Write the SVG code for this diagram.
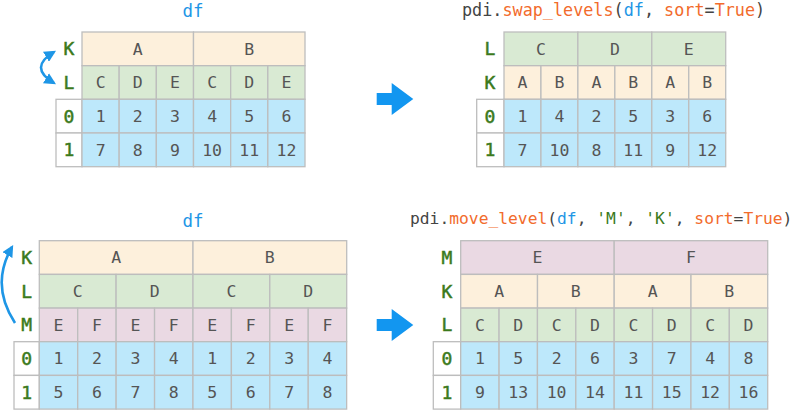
<svg xmlns="http://www.w3.org/2000/svg" width="800" height="410" viewBox="0 0 800 410">
<style>
.c{stroke:#bdbdbd;stroke-width:1.3}
.o{fill:#fdf0dc}.g{fill:#d9ead3}.p{fill:#ead9e3}.b{fill:#bde8fb}.w{fill:#ffffff}
text{font-family:"DejaVu Sans Mono","Liberation Mono",monospace}
.t{font-size:16.5px;fill:#555;text-anchor:middle}
.l{font-size:18px;fill:#3b7a1c;text-anchor:middle;stroke:#3b7a1c;stroke-width:0.5}
.df{font-size:17.5px;fill:#1e96e6;text-anchor:middle}
.code{fill:#444}
.or{fill:#f26b2c}.bl{fill:#1e96e6}.gr{fill:#3b7a1c}
.arc{fill:none;stroke:#1e96e6;stroke-width:2.6}
.chev{fill:#1296f0}
</style>
<defs>
<marker id="ah" viewBox="0 0 10 10" refX="8" refY="5" markerWidth="4.5" markerHeight="4.5" orient="auto-start-reverse" markerUnits="strokeWidth">
<path d="M0,0 L10,5 L0,10 z" fill="#1e96e6"/>
</marker>
</defs>

<g id="connectors">
<path class="arc" d="M54 52 Q28 67.5 54 83" marker-start="url(#ah)" marker-end="url(#ah)"/>
<path class="arc" d="M15 323 Q-10 285 12 247" marker-end="url(#ah)"/>
<polygon class="chev" points="376.7,93 391.7,93 391.7,83 413.3,99 391.7,115 391.7,105 376.7,105"/>
<polygon class="chev" points="376.7,319 391.7,319 391.7,309 413.3,325 391.7,341 391.7,331 376.7,331"/>
</g>

<g id="table1">
<text class="df" x="193" y="16.5">df</text>
<rect class="o c" x="82" y="32" width="111.5" height="33.7"/>
<rect class="o c" x="193.5" y="32" width="111.5" height="33.7"/>
<text class="t" x="137.75" y="54.5">A</text><text class="t" x="249.25" y="54.5">B</text>
<g>
<rect class="g c" x="82" y="65.7" width="37.17" height="33.6"/>
<rect class="g c" x="119.17" y="65.7" width="37.17" height="33.6"/>
<rect class="g c" x="156.33" y="65.7" width="37.17" height="33.6"/>
<rect class="g c" x="193.5" y="65.7" width="37.17" height="33.6"/>
<rect class="g c" x="230.67" y="65.7" width="37.17" height="33.6"/>
<rect class="g c" x="267.83" y="65.7" width="37.17" height="33.6"/>
</g>
<text class="t" x="100.6" y="88.2">C</text><text class="t" x="137.75" y="88.2">D</text><text class="t" x="174.9" y="88.2">E</text><text class="t" x="212.1" y="88.2">C</text><text class="t" x="249.25" y="88.2">D</text><text class="t" x="286.4" y="88.2">E</text>
<g>
<rect class="w c" x="56" y="99.3" width="26" height="33.7"/>
<rect class="w c" x="56" y="133" width="26" height="33.7"/>
<rect class="b c" x="82" y="99.3" width="37.17" height="33.7"/>
<rect class="b c" x="119.17" y="99.3" width="37.17" height="33.7"/>
<rect class="b c" x="156.33" y="99.3" width="37.17" height="33.7"/>
<rect class="b c" x="193.5" y="99.3" width="37.17" height="33.7"/>
<rect class="b c" x="230.67" y="99.3" width="37.17" height="33.7"/>
<rect class="b c" x="267.83" y="99.3" width="37.17" height="33.7"/>
<rect class="b c" x="82" y="133" width="37.17" height="33.7"/>
<rect class="b c" x="119.17" y="133" width="37.17" height="33.7"/>
<rect class="b c" x="156.33" y="133" width="37.17" height="33.7"/>
<rect class="b c" x="193.5" y="133" width="37.17" height="33.7"/>
<rect class="b c" x="230.67" y="133" width="37.17" height="33.7"/>
<rect class="b c" x="267.83" y="133" width="37.17" height="33.7"/>
</g>
<text class="t" x="100.6" y="121.9">1</text><text class="t" x="137.75" y="121.9">2</text><text class="t" x="174.9" y="121.9">3</text><text class="t" x="212.1" y="121.9">4</text><text class="t" x="249.25" y="121.9">5</text><text class="t" x="286.4" y="121.9">6</text>
<text class="t" x="100.6" y="155.6">7</text><text class="t" x="137.75" y="155.6">8</text><text class="t" x="174.9" y="155.6">9</text><text class="t" x="212.1" y="155.6">10</text><text class="t" x="249.25" y="155.6">11</text><text class="t" x="286.4" y="155.6">12</text>
<text class="l" x="69" y="55.2">K</text><text class="l" x="69" y="88.9">L</text><text class="l" x="69" y="122.6">0</text><text class="l" x="69" y="156.3">1</text>
</g>

<g id="table2">
<text class="code" x="462" y="16" font-size="16.8">pdi.<tspan class="or">swap_levels</tspan>(<tspan class="bl">df</tspan>, <tspan class="or">sort</tspan>=<tspan class="or">True</tspan>)</text>
<rect class="g c" x="504" y="32" width="73.9" height="33.7"/>
<rect class="g c" x="577.9" y="32" width="73.9" height="33.7"/>
<rect class="g c" x="651.8" y="32" width="73.9" height="33.7"/>
<text class="t" x="541" y="54.5">C</text><text class="t" x="614.85" y="54.5">D</text><text class="t" x="688.75" y="54.5">E</text>
<g>
<rect class="o c" x="504" y="65.7" width="36.95" height="33.6"/>
<rect class="o c" x="540.95" y="65.7" width="36.95" height="33.6"/>
<rect class="o c" x="577.9" y="65.7" width="36.95" height="33.6"/>
<rect class="o c" x="614.85" y="65.7" width="36.95" height="33.6"/>
<rect class="o c" x="651.8" y="65.7" width="36.95" height="33.6"/>
<rect class="o c" x="688.75" y="65.7" width="36.95" height="33.6"/>
</g>
<text class="t" x="522.5" y="88.2">A</text><text class="t" x="559.4" y="88.2">B</text><text class="t" x="596.4" y="88.2">A</text><text class="t" x="633.3" y="88.2">B</text><text class="t" x="670.3" y="88.2">A</text><text class="t" x="707.2" y="88.2">B</text>
<g>
<rect class="w c" x="476.7" y="99.3" width="27.3" height="33.7"/>
<rect class="w c" x="476.7" y="133" width="27.3" height="33.7"/>
<rect class="b c" x="504" y="99.3" width="36.95" height="33.7"/>
<rect class="b c" x="540.95" y="99.3" width="36.95" height="33.7"/>
<rect class="b c" x="577.9" y="99.3" width="36.95" height="33.7"/>
<rect class="b c" x="614.85" y="99.3" width="36.95" height="33.7"/>
<rect class="b c" x="651.8" y="99.3" width="36.95" height="33.7"/>
<rect class="b c" x="688.75" y="99.3" width="36.95" height="33.7"/>
<rect class="b c" x="504" y="133" width="36.95" height="33.7"/>
<rect class="b c" x="540.95" y="133" width="36.95" height="33.7"/>
<rect class="b c" x="577.9" y="133" width="36.95" height="33.7"/>
<rect class="b c" x="614.85" y="133" width="36.95" height="33.7"/>
<rect class="b c" x="651.8" y="133" width="36.95" height="33.7"/>
<rect class="b c" x="688.75" y="133" width="36.95" height="33.7"/>
</g>
<text class="t" x="522.5" y="121.9">1</text><text class="t" x="559.4" y="121.9">4</text><text class="t" x="596.4" y="121.9">2</text><text class="t" x="633.3" y="121.9">5</text><text class="t" x="670.3" y="121.9">3</text><text class="t" x="707.2" y="121.9">6</text>
<text class="t" x="522.5" y="155.6">7</text><text class="t" x="559.4" y="155.6">10</text><text class="t" x="596.4" y="155.6">8</text><text class="t" x="633.3" y="155.6">11</text><text class="t" x="670.3" y="155.6">9</text><text class="t" x="707.2" y="155.6">12</text>
<text class="l" x="490" y="55.2">L</text><text class="l" x="490" y="88.9">K</text><text class="l" x="490" y="122.6">0</text><text class="l" x="490" y="156.3">1</text>
</g>

<g id="table3">
<text class="df" x="193" y="227">df</text>
<rect class="o c" x="39.3" y="240.7" width="153.7" height="33.7"/>
<rect class="o c" x="193" y="240.7" width="153.7" height="33.7"/>
<text class="t" x="116.1" y="263.2">A</text><text class="t" x="269.8" y="263.2">B</text>
<rect class="g c" x="39.3" y="274.4" width="76.8" height="33.7"/>
<rect class="g c" x="116.1" y="274.4" width="76.9" height="33.7"/>
<rect class="g c" x="193" y="274.4" width="76.8" height="33.7"/>
<rect class="g c" x="269.8" y="274.4" width="76.9" height="33.7"/>
<text class="t" x="77.7" y="296.9">C</text><text class="t" x="154.6" y="296.9">D</text><text class="t" x="231.4" y="296.9">C</text><text class="t" x="308.3" y="296.9">D</text>
<g>
<rect class="p c" x="39.3" y="308.1" width="38.42" height="33.6"/>
<rect class="p c" x="77.72" y="308.1" width="38.42" height="33.6"/>
<rect class="p c" x="116.14" y="308.1" width="38.42" height="33.6"/>
<rect class="p c" x="154.56" y="308.1" width="38.42" height="33.6"/>
<rect class="p c" x="192.98" y="308.1" width="38.42" height="33.6"/>
<rect class="p c" x="231.4" y="308.1" width="38.42" height="33.6"/>
<rect class="p c" x="269.82" y="308.1" width="38.42" height="33.6"/>
<rect class="p c" x="308.24" y="308.1" width="38.42" height="33.6"/>
</g>
<text class="t" x="58.5" y="330.5">E</text><text class="t" x="96.9" y="330.5">F</text><text class="t" x="135.4" y="330.5">E</text><text class="t" x="173.8" y="330.5">F</text><text class="t" x="212.2" y="330.5">E</text><text class="t" x="250.6" y="330.5">F</text><text class="t" x="289.1" y="330.5">E</text><text class="t" x="327.5" y="330.5">F</text>
<g>
<rect class="w c" x="14" y="341.7" width="25.3" height="33.7"/>
<rect class="w c" x="14" y="375.4" width="25.3" height="33.7"/>
<rect class="b c" x="39.3" y="341.7" width="38.42" height="33.7"/>
<rect class="b c" x="77.72" y="341.7" width="38.42" height="33.7"/>
<rect class="b c" x="116.14" y="341.7" width="38.42" height="33.7"/>
<rect class="b c" x="154.56" y="341.7" width="38.42" height="33.7"/>
<rect class="b c" x="192.98" y="341.7" width="38.42" height="33.7"/>
<rect class="b c" x="231.4" y="341.7" width="38.42" height="33.7"/>
<rect class="b c" x="269.82" y="341.7" width="38.42" height="33.7"/>
<rect class="b c" x="308.24" y="341.7" width="38.42" height="33.7"/>
<rect class="b c" x="39.3" y="375.4" width="38.42" height="33.7"/>
<rect class="b c" x="77.72" y="375.4" width="38.42" height="33.7"/>
<rect class="b c" x="116.14" y="375.4" width="38.42" height="33.7"/>
<rect class="b c" x="154.56" y="375.4" width="38.42" height="33.7"/>
<rect class="b c" x="192.98" y="375.4" width="38.42" height="33.7"/>
<rect class="b c" x="231.4" y="375.4" width="38.42" height="33.7"/>
<rect class="b c" x="269.82" y="375.4" width="38.42" height="33.7"/>
<rect class="b c" x="308.24" y="375.4" width="38.42" height="33.7"/>
</g>
<text class="t" x="58.5" y="364.2">1</text><text class="t" x="96.9" y="364.2">2</text><text class="t" x="135.4" y="364.2">3</text><text class="t" x="173.8" y="364.2">4</text><text class="t" x="212.2" y="364.2">1</text><text class="t" x="250.6" y="364.2">2</text><text class="t" x="289.1" y="364.2">3</text><text class="t" x="327.5" y="364.2">4</text>
<text class="t" x="58.5" y="397.9">5</text><text class="t" x="96.9" y="397.9">6</text><text class="t" x="135.4" y="397.9">7</text><text class="t" x="173.8" y="397.9">8</text><text class="t" x="212.2" y="397.9">5</text><text class="t" x="250.6" y="397.9">6</text><text class="t" x="289.1" y="397.9">7</text><text class="t" x="327.5" y="397.9">8</text>
<text class="l" x="26.7" y="263.9">K</text><text class="l" x="26.7" y="297.6">L</text><text class="l" x="26.7" y="331.2">M</text><text class="l" x="26.7" y="364.9">0</text><text class="l" x="26.7" y="398.6">1</text>
</g>

<g id="table4">
<text class="code" x="410" y="224" font-size="16.3">pdi.<tspan class="or">move_level</tspan>(<tspan class="bl">df</tspan>, <tspan class="gr">'M'</tspan>, <tspan class="gr">'K'</tspan>, <tspan class="or">sort</tspan>=<tspan class="or">True</tspan>)</text>
<rect class="p c" x="460.7" y="240.7" width="153.5" height="33.7"/>
<rect class="p c" x="614.2" y="240.7" width="153.5" height="33.7"/>
<text class="t" x="537.5" y="263.2">E</text><text class="t" x="691" y="263.2">F</text>
<rect class="o c" x="460.7" y="274.4" width="76.8" height="33.7"/>
<rect class="o c" x="537.5" y="274.4" width="76.7" height="33.7"/>
<rect class="o c" x="614.2" y="274.4" width="76.8" height="33.7"/>
<rect class="o c" x="691" y="274.4" width="76.7" height="33.7"/>
<text class="t" x="499.1" y="296.9">A</text><text class="t" x="575.8" y="296.9">B</text><text class="t" x="652.6" y="296.9">A</text><text class="t" x="729.3" y="296.9">B</text>
<g>
<rect class="g c" x="460.7" y="308.1" width="38.375" height="33.6"/>
<rect class="g c" x="499.075" y="308.1" width="38.375" height="33.6"/>
<rect class="g c" x="537.45" y="308.1" width="38.375" height="33.6"/>
<rect class="g c" x="575.825" y="308.1" width="38.375" height="33.6"/>
<rect class="g c" x="614.2" y="308.1" width="38.375" height="33.6"/>
<rect class="g c" x="652.575" y="308.1" width="38.375" height="33.6"/>
<rect class="g c" x="690.95" y="308.1" width="38.375" height="33.6"/>
<rect class="g c" x="729.325" y="308.1" width="38.375" height="33.6"/>
</g>
<text class="t" x="479.9" y="330.5">C</text><text class="t" x="518.3" y="330.5">D</text><text class="t" x="556.6" y="330.5">C</text><text class="t" x="595" y="330.5">D</text><text class="t" x="633.4" y="330.5">C</text><text class="t" x="671.8" y="330.5">D</text><text class="t" x="710.1" y="330.5">C</text><text class="t" x="748.5" y="330.5">D</text>
<g>
<rect class="w c" x="433.3" y="341.7" width="27.4" height="33.7"/>
<rect class="w c" x="433.3" y="375.4" width="27.4" height="33.7"/>
<rect class="b c" x="460.7" y="341.7" width="38.375" height="33.7"/>
<rect class="b c" x="499.075" y="341.7" width="38.375" height="33.7"/>
<rect class="b c" x="537.45" y="341.7" width="38.375" height="33.7"/>
<rect class="b c" x="575.825" y="341.7" width="38.375" height="33.7"/>
<rect class="b c" x="614.2" y="341.7" width="38.375" height="33.7"/>
<rect class="b c" x="652.575" y="341.7" width="38.375" height="33.7"/>
<rect class="b c" x="690.95" y="341.7" width="38.375" height="33.7"/>
<rect class="b c" x="729.325" y="341.7" width="38.375" height="33.7"/>
<rect class="b c" x="460.7" y="375.4" width="38.375" height="33.7"/>
<rect class="b c" x="499.075" y="375.4" width="38.375" height="33.7"/>
<rect class="b c" x="537.45" y="375.4" width="38.375" height="33.7"/>
<rect class="b c" x="575.825" y="375.4" width="38.375" height="33.7"/>
<rect class="b c" x="614.2" y="375.4" width="38.375" height="33.7"/>
<rect class="b c" x="652.575" y="375.4" width="38.375" height="33.7"/>
<rect class="b c" x="690.95" y="375.4" width="38.375" height="33.7"/>
<rect class="b c" x="729.325" y="375.4" width="38.375" height="33.7"/>
</g>
<text class="t" x="479.9" y="364.2">1</text><text class="t" x="518.3" y="364.2">5</text><text class="t" x="556.6" y="364.2">2</text><text class="t" x="595" y="364.2">6</text><text class="t" x="633.4" y="364.2">3</text><text class="t" x="671.8" y="364.2">7</text><text class="t" x="710.1" y="364.2">4</text><text class="t" x="748.5" y="364.2">8</text>
<text class="t" x="479.9" y="397.9">9</text><text class="t" x="518.3" y="397.9">13</text><text class="t" x="556.6" y="397.9">10</text><text class="t" x="595" y="397.9">14</text><text class="t" x="633.4" y="397.9">11</text><text class="t" x="671.8" y="397.9">15</text><text class="t" x="710.1" y="397.9">12</text><text class="t" x="748.5" y="397.9">16</text>
<text class="l" x="447" y="263.9">M</text><text class="l" x="447" y="297.6">K</text><text class="l" x="447" y="331.2">L</text><text class="l" x="447" y="364.9">0</text><text class="l" x="447" y="398.6">1</text>
</g>
</svg>
